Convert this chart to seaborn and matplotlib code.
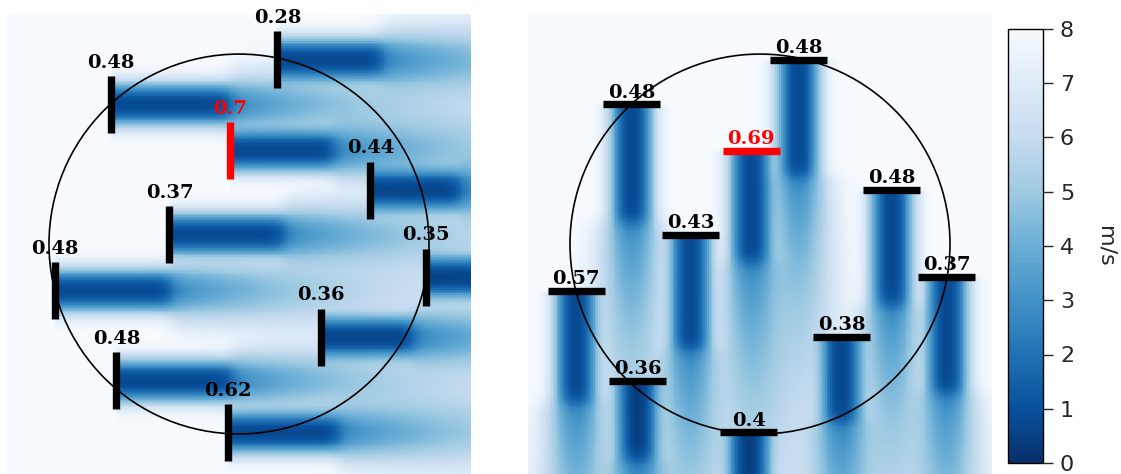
import numpy as np
import matplotlib
matplotlib.use('Agg')
import matplotlib.pyplot as plt
import seaborn as sns
from matplotlib.patches import Ellipse

sns.set_style("white")

# Dados do parque (coordenadas normalizadas pelo raio do círculo)
U_INF = 8.0          # m/s, vento livre
D = 0.3              # diâmetro do rotor
turb_x = [0.202, -0.674, -0.047, 0.692, -0.366, 0.984, -0.968, 0.429, -0.645, -0.058]
turb_y = [0.971, 0.735, 0.492, 0.284, 0.050, -0.174, -0.245, -0.490, -0.721, -0.992]
potencia_oeste = [0.28, 0.48, 0.7, 0.44, 0.37, 0.35, 0.48, 0.36, 0.48, 0.62]
potencia_norte = [0.48, 0.48, 0.69, 0.48, 0.43, 0.37, 0.57, 0.38, 0.36, 0.4]

# comprimento da esteira próxima de cada turbina (em diâmetros)
esteira_oeste = [1.82, 2.09, 1.81, 1.56, 2.0, 1.6, 2.02, 1.61, 2.03, 1.93]
esteira_norte = [2.03, 2.05, 1.95, 2.0, 2.0, 2.03, 1.95, 1.46, 1.37, 1.5]

# Parâmetros da esteira (em diâmetros)
near_amp = 0.9
near_sig = 0.3
far_amp = 0.66
far_sig = 0.36
far_grow = 0.06
far_decay = 4.0

LX, LY = 1.221, 1.211
NX, NY = 244, 242

xc = -LX + (np.arange(NX) + 0.5) * 2 * LX / NX
yc = LY - (np.arange(NY) + 0.5) * 2 * LY / NY
X, Y = np.meshgrid(xc, yc)


def degrau(z, w):
    return 0.5 * (1 + np.tanh(z / w))


def campo(direcao, comprimentos):
    soma = np.zeros_like(X)
    for tx, ty, ln in zip(turb_x, turb_y, comprimentos):
        if direcao == 'oeste':
            d = (X - tx) / D
            r = (Y - ty) / D
        else:
            d = (ty - Y) / D
            r = (X - tx) / D
        dd = d - ln
        perto = near_amp * np.exp(-0.5 * np.abs(r / near_sig) ** 2.5) * degrau(d, 0.03) * (1 - degrau(dd, 0.15))
        sig = far_sig + far_grow * np.clip(dd, 0, None)
        longe = far_amp * np.exp(-np.clip(dd, 0, None) / far_decay) * np.exp(-0.5 * (r / sig) ** 2) * degrau(dd, 0.15)
        deficit = perto + longe
        soma += deficit ** 2
    return U_INF * (1 - np.clip(np.sqrt(soma), 0, 1))


def idx(x, y):
    return (x + LX) / (2 * LX) * NX, (LY - y) / (2 * LY) * NY


fig = plt.figure(figsize=(11.21, 4.74), dpi=100)
ax1 = fig.add_axes([7 / 1121, 0.0, 464 / 1121, 460 / 474])
ax2 = fig.add_axes([528 / 1121, 0.0, 464 / 1121, 460 / 474])
cax = fig.add_axes([1008 / 1121, 11 / 474, 35 / 1121, 434 / 474])

paineis = [(ax1, 'oeste', potencia_oeste, esteira_oeste),
           (ax2, 'norte', potencia_norte, esteira_norte)]

for ax, direcao, potencia, comp in paineis:
    sns.heatmap(campo(direcao, comp), ax=ax, cmap='Blues_r', vmin=0, vmax=U_INF,
                cbar=(ax is ax2), cbar_ax=cax if ax is ax2 else None,
                xticklabels=False, yticklabels=False)
    cx, cy = idx(0, 0)
    ax.add_patch(Ellipse((cx, cy), 2 / (2 * LX) * NX, 2 / (2 * LY) * NY,
                         fill=False, edgecolor='black', linewidth=1.2))
    pmax = max(potencia)
    for tx, ty, p in zip(turb_x, turb_y, potencia):
        cor = 'red' if p == pmax else 'black'
        if direcao == 'oeste':
            (x0, y0), (x1, y1) = idx(tx, ty - D / 2), idx(tx, ty + D / 2)
            tpos = idx(tx, ty + D / 2)
            off = 3
        else:
            (x0, y0), (x1, y1) = idx(tx - D / 2, ty), idx(tx + D / 2, ty)
            tpos = idx(tx, ty)
            off = 2
        ax.plot([x0, x1], [y0, y1], color=cor, linewidth=5.3, solid_capstyle='butt')
        ax.annotate(str(p), tpos, xytext=(0, off), textcoords='offset points',
                    ha='center', va='bottom', color=cor, fontsize=14,
                    fontweight='bold', family='DejaVu Serif')
    ax.set_xlim(0, NX)
    ax.set_ylim(NY, 0)
    ax.axis('off')

cbar = ax2.collections[0].colorbar
cbar.set_ticks(range(0, 9))
cbar.outline.set_linewidth(1)
cbar.outline.set_edgecolor('black')
cbar.ax.tick_params(labelsize=16, length=7.2, width=1, pad=5)
cbar.set_label('m/s', rotation=270, fontsize=16, labelpad=30)

plt.savefig('out.png', dpi=100)
